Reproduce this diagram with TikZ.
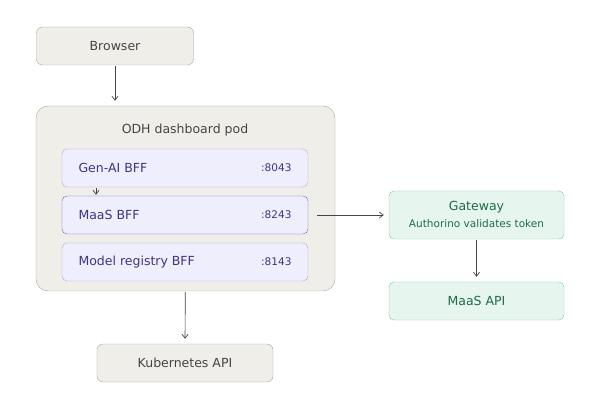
\documentclass[tikz,border=0pt]{standalone}
\usepackage{fontspec}
\setmainfont{DejaVu Sans}
\usetikzlibrary{arrows.meta,positioning}
\definecolor{greyfill}{HTML}{EFEEE9}
\definecolor{greyline}{HTML}{A8A69E}
\definecolor{bfffill}{HTML}{EEEEFC}
\definecolor{bffline}{HTML}{ABA8E2}
\definecolor{bffdark}{HTML}{6A64C2}
\definecolor{bfftext}{HTML}{3B3685}
\definecolor{gwfill}{HTML}{E6F6EE}
\definecolor{gwline}{HTML}{7FC7A5}
\definecolor{gwtext}{HTML}{1E6B48}
\definecolor{txt}{HTML}{444444}
\tikzset{
  box/.style={draw=greyline,fill=greyfill,rounded corners=6pt,minimum width=157pt,minimum height=38pt,text=txt,font=\fontsize{12.5}{14}\selectfont},
  bff/.style={draw=bffline,fill=bfffill,rounded corners=5pt,minimum width=246pt,minimum height=38pt},
  gw/.style={draw=gwline,fill=gwfill,rounded corners=5pt,minimum width=175pt,text=gwtext,font=\fontsize{12.5}{14}\selectfont},
  arr/.style={-{Straight Barb[length=4pt,width=6pt]},draw=txt,line width=0.7pt,shorten >=5pt,shorten <=1pt},
  bfflabel/.style={text=bfftext,font=\fontsize{12.5}{14}\selectfont,anchor=west},
  portlabel/.style={text=bfftext,font=\fontsize{10.5}{12}\selectfont,anchor=east}
}
\begin{document}
\begin{tikzpicture}[x=1pt,y=-1pt]
  \useasboundingbox (0,0) rectangle (600,406);
  % Browser and pod
  \node[box] (browser) at (115,46) {Browser};
  \node[draw=greyline,fill=greyfill,rounded corners=12pt,minimum width=299pt,minimum height=185pt] (pod) at (185.5,198.5) {};
  \node[text=txt,font=\fontsize{12.5}{14}\selectfont] (podlabel) at (185,130) {ODH dashboard pod};
  % BFFs
  \node[bff] (genai) at (185,168) {};
  \node[bff,draw=bffdark] (maas) at (185,215) {};
  \node[bff] (registry) at (185,262) {};
  \node[bfflabel] at (75,168) {Gen-AI BFF};
  \node[portlabel] at (295,168) {:8043};
  \node[bfflabel] at (75,215) {MaaS BFF};
  \node[portlabel] at (295,215) {:8243};
  \node[bfflabel] at (75,262) {Model registry BFF};
  \node[portlabel] at (295,262) {:8143};
  % Gateway side
  \node[gw,minimum height=48pt] (gateway) at (476.5,215) {};
  \node[text=gwtext,font=\fontsize{12.5}{14}\selectfont] at (476.5,207) {Gateway};
  \node[text=gwtext,font=\fontsize{10.5}{12}\selectfont] at (476.5,224) {Authorino validates token};
  \node[gw,minimum height=38pt] (maasapi) at (476.5,301) {MaaS API};
  \node[box,minimum width=176pt] (kube) at (185,363) {Kubernetes API};
  % Connectors
  \draw[arr] (browser) -- (browser |- pod.north);
  \coordinate (gtop) at (96,187);
  \draw[arr,shorten >=1pt] (gtop) -- (gtop |- maas.north);
  \draw[arr,shorten <=9pt] (maas) -- (gateway);
  \draw[arr] (gateway) -- (maasapi);
  \draw[arr] (pod) -- (kube);
\end{tikzpicture}
\end{document}
